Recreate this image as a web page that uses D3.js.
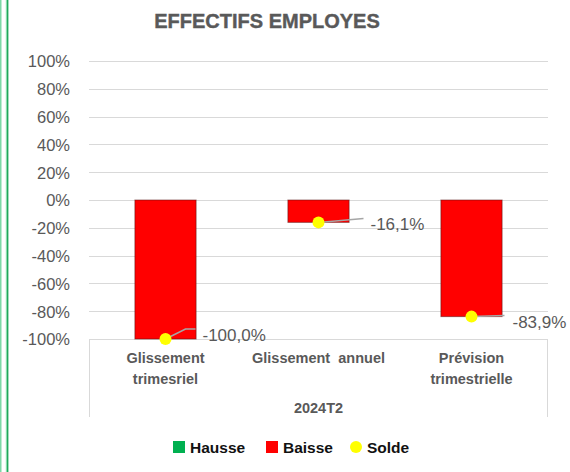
<!DOCTYPE html>
<html>
<head>
<meta charset="utf-8">
<script src="https://cdn.jsdelivr.net/npm/d3@7"></script>
<style>
  html, body { margin: 0; padding: 0; background: #ffffff; }
  svg { display: block; }
</style>
</head>
<body>
<svg id="chart" width="570" height="472"></svg>
<script>
// ---- data ----
const categories = ["Glissement trimesriel", "Glissement  annuel", "Prévision trimestrielle"];
const categoryLines = [["Glissement", "trimesriel"], ["Glissement  annuel"], ["Prévision", "trimestrielle"]];
const groupLabel = "2024T2";
const hausse = [0, 0, 0];
const baisse = [-1.0, -0.161, -0.839];
const solde = [-1.0, -0.161, -0.839];
const soldeLabels = ["-100,0%", "-16,1%", "-83,9%"];
const yTicks = [1, 0.8, 0.6, 0.4, 0.2, 0, -0.2, -0.4, -0.6, -0.8, -1];
const legendItems = ["Hausse", "Baisse", "Solde"];
const title = "EFFECTIFS EMPLOYES";

// ---- layout / style ----
const plot = { left: 89, right: 548, top: 61, bottom: 339 };
const labelOffsets = [ // leader-line end (dx, dy) and text start relative to the dot
  { bend: [20, -10], end: [30, -10], text: [37, -4] },
  { bend: null, end: [45, -4], text: [52, 2] },
  { bend: null, end: [33, -1], text: [41, 5] }
];
const grey = "#595959";
const svg = d3.select("#chart");

// frame lines on the left
svg.append("rect").attr("x", 0).attr("y", 0).attr("width", 1.5).attr("height", 472).attr("fill", "#7dd8a6");
svg.append("rect").attr("x", 5.8).attr("y", 0).attr("width", 1).attr("height", 472).attr("fill", "#8fe0b4");
svg.append("rect").attr("x", 6.8).attr("y", 0).attr("width", 1.6).attr("height", 472).attr("fill", "#1fa85a");

// title
svg.append("text").attr("x", 267).attr("y", 28).attr("text-anchor", "middle")
  .attr("font-family", "Liberation Sans, Arial, sans-serif").attr("font-weight", "bold")
  .attr("font-size", 20).attr("fill", grey)
  .attr("stroke", grey).attr("stroke-width", 0.4).text(title);

const y = d3.scaleLinear().domain([-1, 1]).range([plot.bottom, plot.top]);
const x = d3.scaleBand().domain(categories).range([plot.left, plot.right])
  .paddingInner(0.6).paddingOuter(0.3);

// gridlines
svg.append("g").selectAll("line").data(yTicks).join("line")
  .attr("x1", plot.left).attr("x2", plot.right)
  .attr("y1", d => Math.round(y(d)) + 0.5).attr("y2", d => Math.round(y(d)) + 0.5)
  .attr("stroke", "#d9d9d9").attr("stroke-width", 1);

// y axis labels
const fmt = d => Math.round(d * 100) + "%";
const yAxis = d3.axisLeft(y).tickValues(yTicks).tickFormat(fmt).tickSize(0).tickPadding(0);
const gy = svg.append("g").attr("transform", "translate(70,0)").call(yAxis);
gy.select(".domain").remove();
gy.selectAll("text").attr("font-family", "Liberation Sans, Arial, sans-serif")
  .attr("font-size", 16.5).attr("fill", grey).attr("dy", "0.36em");

// multi-level category box
svg.append("line").attr("x1", plot.left + 0.5).attr("x2", plot.left + 0.5)
  .attr("y1", plot.bottom).attr("y2", 417).attr("stroke", "#d9d9d9");
svg.append("line").attr("x1", plot.right - 0.5).attr("x2", plot.right - 0.5)
  .attr("y1", plot.bottom).attr("y2", 417).attr("stroke", "#d9d9d9");

// bars (Baisse)
svg.append("g").selectAll("rect").data(categories).join("rect")
  .attr("x", d => x(d))
  .attr("width", x.bandwidth())
  .attr("y", (d, i) => y(Math.max(0, baisse[i])))
  .attr("height", (d, i) => Math.abs(y(baisse[i]) - y(0)))
  .attr("fill", "#ff0000")
  .attr("stroke", "rgba(90,20,20,0.55)").attr("stroke-width", 1);

// hausse bars (zero height)
svg.append("g").selectAll("rect").data(categories).join("rect")
  .attr("x", d => x(d)).attr("width", x.bandwidth())
  .attr("y", (d, i) => y(Math.max(0, hausse[i])))
  .attr("height", (d, i) => Math.abs(y(hausse[i]) - y(0)))
  .attr("fill", "#00b050");

// leader lines + labels
const cx = d => x(d) + x.bandwidth() / 2;
categories.forEach((c, i) => {
  const px = cx(c), py = y(solde[i]);
  const o = labelOffsets[i];
  const pts = [[px, py]];
  if (o.bend) pts.push([px + o.bend[0], py + o.bend[1]]);
  pts.push([px + o.end[0], py + o.end[1]]);
  svg.append("path").attr("d", d3.line()(pts)).attr("fill", "none")
    .attr("stroke", "#a6a6a6").attr("stroke-width", 1.5);
  svg.append("text").attr("x", px + o.text[0]).attr("y", py + o.text[1]).attr("dy", "0.36em")
    .attr("font-family", "Liberation Sans, Arial, sans-serif").attr("font-size", 17)
    .attr("fill", grey).text(soldeLabels[i]);
});

// solde dots
svg.append("g").selectAll("circle").data(categories).join("circle")
  .attr("cx", d => cx(d)).attr("cy", (d, i) => y(solde[i])).attr("r", 6)
  .attr("fill", "#ffff00");

// category labels
categories.forEach((c, i) => {
  categoryLines[i].forEach((line, j) => {
    svg.append("text").attr("x", cx(c)).attr("y", 363 + j * 21).attr("text-anchor", "middle")
      .attr("font-family", "Liberation Sans, Arial, sans-serif").attr("font-weight", "bold")
      .attr("font-size", 14.5).attr("fill", grey).style("white-space", "pre")
      .attr("xml:space", "preserve").text(line);
  });
});
svg.append("text").attr("x", (plot.left + plot.right) / 2).attr("y", 413).attr("text-anchor", "middle")
  .attr("font-family", "Liberation Sans, Arial, sans-serif").attr("font-weight", "bold")
  .attr("font-size", 14.5).attr("fill", grey).text(groupLabel);

// legend
const legendX = [173, 266, 350];
const legendColors = ["#00b050", "#ff0000", "#ffff00"];
legendItems.forEach((name, i) => {
  const g = svg.append("g").attr("transform", `translate(${legendX[i]},447)`);
  if (i < 2) {
    g.append("rect").attr("x", 0).attr("y", -6).attr("width", 12).attr("height", 12).attr("fill", legendColors[i]);
  } else {
    g.append("circle").attr("cx", 6).attr("cy", 0).attr("r", 6).attr("fill", legendColors[i]);
  }
  g.append("text").attr("x", 17).attr("y", 0).attr("dy", "0.36em")
    .attr("font-family", "Liberation Sans, Arial, sans-serif").attr("font-weight", "bold")
    .attr("font-size", 15.5).attr("fill", "#111111").text(name);
});
</script>
</body>
</html>
